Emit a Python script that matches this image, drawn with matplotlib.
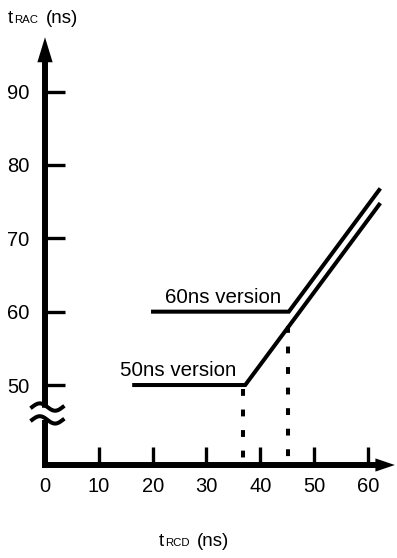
import numpy as np
import matplotlib
matplotlib.use('Agg')
import matplotlib.pyplot as plt

plt.rcParams['font.family'] = ['Liberation Sans', 'DejaVu Sans']

# data (ns)
v50_x = [16.2, 37.2, 62.3]
v50_y = [50, 50, 74.8]
v60_x = [19.7, 45.3, 62.3]
v60_y = [60, 60, 76.8]
drop_x = [36.7, 45.2]           # dotted guides
drop_top = [49.4, 58.0]
drop_bottom = [39.6, 39.1]
xticks = [0, 10, 20, 30, 40, 50, 60]
yticks = [50, 60, 70, 80, 90]
label50 = (13.9, 51.2, '50ns version')
label60 = (22.3, 61.2, '60ns version')

x0, x1 = 0, 64.1
y0, y1 = 39.1, 97.3

fig = plt.figure(figsize=(3.97, 5.58), dpi=100)
ax = fig.add_axes([45/397, 93/558, 345/397, 427/558])
ax.set_xlim(x0, x1)
ax.set_ylim(y0, y1)
for s in ax.spines.values():
    s.set_visible(False)

# data lines
ax.plot(v50_x, v50_y, color='black', lw=2.9, solid_capstyle='butt', solid_joinstyle='miter')
ax.plot(v60_x, v60_y, color='black', lw=2.9, solid_capstyle='butt', solid_joinstyle='miter')
for dx, t, b in zip(drop_x, drop_top, drop_bottom):
    ax.plot([dx, dx], [t, b], color='black', lw=2.9, linestyle=(0, (1.7, 3.4)),
            dash_capstyle='butt')

ax.text(label50[0], label50[1], label50[2], fontsize=14.8, ha='left', va='baseline')
ax.text(label60[0], label60[1], label60[2], fontsize=14.8, ha='left', va='baseline')

# axes drawn by hand (break on y axis, arrows)
axis_lw = 4.3
ax.plot([0, 0], [y0 - 0.4, 45.3], color='black', lw=axis_lw, solid_capstyle='butt', clip_on=False)
ax.annotate('', xy=(0, 97.4), xytext=(0, 46.9), annotation_clip=False,
            arrowprops=dict(width=axis_lw, headwidth=11, headlength=18, shrink=0,
                            facecolor='black', edgecolor='none'))
ax.annotate('', xy=(65.0, y0), xytext=(-0.55, y0), annotation_clip=False,
            arrowprops=dict(width=axis_lw, headwidth=9.5, headlength=14, shrink=0,
                            facecolor='black', edgecolor='none'))

# break marks
wx = np.linspace(-2.4, 3.3, 60)
wy = 0.5 * np.sin(2 * np.pi * (wx + 2.4) / 5.7)
ax.plot(wx, 47.0 + wy, color='black', lw=2.9, clip_on=False)
ax.plot(wx, 45.25 + wy, color='black', lw=2.9, clip_on=False)

ax.set_xticks(xticks)
ax.set_yticks(yticks)
ax.tick_params(axis='x', direction='in', length=13, width=2.4, pad=9, labelsize=14.5)
ax.tick_params(axis='y', direction='in', length=14.5, width=2.4, pad=11, labelsize=14.5)

# axis titles with small-caps subscripts
fig.text(8/397, 1 - 23/558, 't', fontsize=13.5, ha='left', va='baseline')
fig.text(14.5/397, 1 - 23/558, 'RAC', fontsize=8.2, ha='left', va='baseline')
fig.text(46/397, 1 - 23/558, '(ns)', fontsize=13.5, ha='left', va='baseline')
fig.text(159/397, 1 - 546/558, 't', fontsize=13.5, ha='left', va='baseline')
fig.text(165.5/397, 1 - 546/558, 'RCD', fontsize=8.2, ha='left', va='baseline')
fig.text(197/397, 1 - 546/558, '(ns)', fontsize=13.5, ha='left', va='baseline')

fig.savefig('out.png', dpi=100)
